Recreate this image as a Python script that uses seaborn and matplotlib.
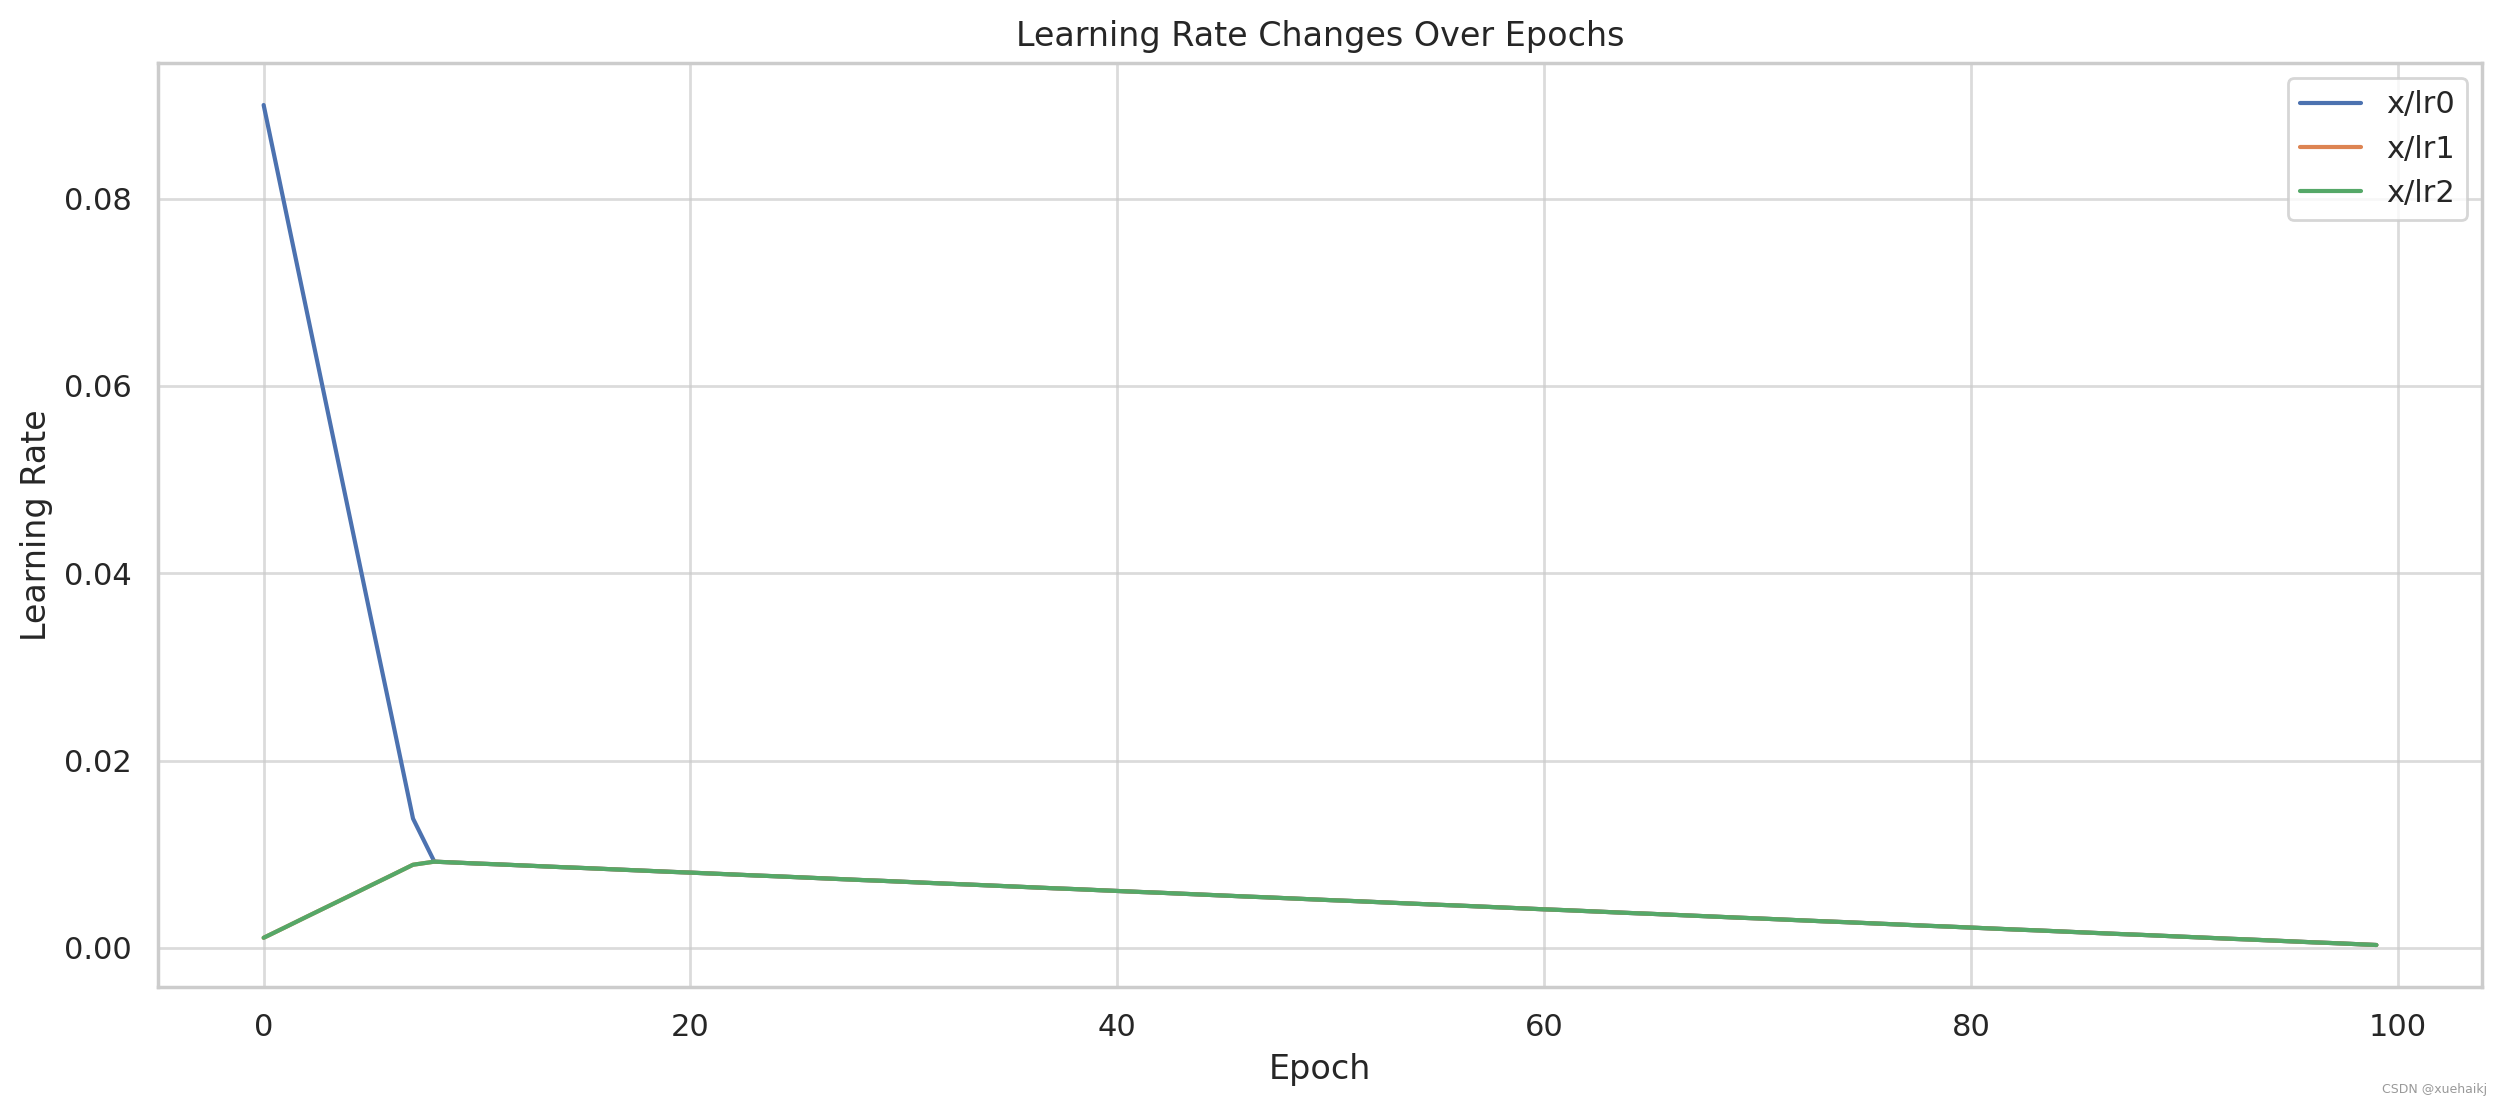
import matplotlib
matplotlib.use("Agg")
import matplotlib.pyplot as plt
import seaborn as sns
import pandas as pd

epochs = list(range(100))

warmup_lr0 = [0.0900, 0.0791, 0.0682, 0.0573, 0.0464, 0.0355, 0.0247, 0.0138]
warmup_lr12 = [0.00107, 0.00218, 0.00330, 0.00441, 0.00552, 0.00664, 0.00775, 0.00887]

decay = [
    0.00920, 0.00910, 0.00900, 0.00891, 0.00881, 0.00871, 0.00861, 0.00852, 0.00842, 0.00832,
    0.00822, 0.00812, 0.00803, 0.00793, 0.00783, 0.00773, 0.00764, 0.00754, 0.00744, 0.00734,
    0.00724, 0.00715, 0.00705, 0.00695, 0.00685, 0.00676, 0.00666, 0.00656, 0.00646, 0.00636,
    0.00627, 0.00617, 0.00607, 0.00597, 0.00588, 0.00578, 0.00568, 0.00558, 0.00548, 0.00539,
    0.00529, 0.00519, 0.00509, 0.00500, 0.00490, 0.00480, 0.00470, 0.00460, 0.00451, 0.00441,
    0.00431, 0.00421, 0.00411, 0.00402, 0.00392, 0.00382, 0.00372, 0.00363, 0.00353, 0.00343,
    0.00333, 0.00323, 0.00314, 0.00304, 0.00294, 0.00284, 0.00275, 0.00265, 0.00255, 0.00245,
    0.00235, 0.00226, 0.00216, 0.00206, 0.00196, 0.00187, 0.00177, 0.00167, 0.00157, 0.00147,
    0.00138, 0.00128, 0.00118, 0.00108, 0.00098, 0.00089, 0.00079, 0.00069, 0.00059, 0.00050,
    0.00040, 0.00030,
]

lr0 = warmup_lr0 + decay
lr1 = warmup_lr12 + decay
lr2 = warmup_lr12 + decay
series_names = ["x/lr0", "x/lr1", "x/lr2"]

df = pd.DataFrame({"epoch": epochs, "x/lr0": lr0, "x/lr1": lr1, "x/lr2": lr2})
long = df.melt(id_vars="epoch", value_vars=series_names, var_name="series", value_name="lr")

sns.set_theme(style="whitegrid", context="notebook")

fig = plt.figure(figsize=(2503 / 200, 1106 / 200), dpi=200)
ax = fig.add_axes([158 / 2503, 1 - 987 / 1106, (2482 - 158) / 2503, (987 - 63) / 1106])

sns.lineplot(data=long, x="epoch", y="lr", hue="series", hue_order=series_names, ax=ax)

ax.grid(True, alpha=0.7)
ax.set_title("Learning Rate Changes Over Epochs")
ax.set_xlabel("Epoch")
ax.set_ylabel("Learning Rate")
ax.legend(loc="upper right", title=None)

fig.text(2487 / 2503, 1 - 1093 / 1106, "CSDN @xuehaikj", ha="right", va="baseline",
         fontsize=4.5, color="#999999")

fig.savefig("out.png", dpi=200)
